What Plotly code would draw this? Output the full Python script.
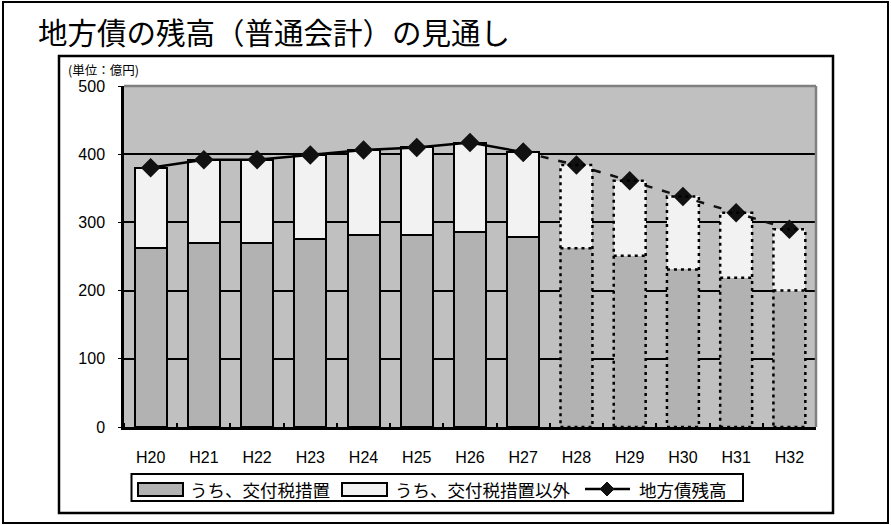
import plotly.graph_objects as go

# ---- data ----
years = ["H20", "H21", "H22", "H23", "H24", "H25", "H26", "H27",
         "H28", "H29", "H30", "H31", "H32"]
kofuzei = [263, 270, 270, 275, 282, 282, 286, 278, 262, 251, 231, 219, 200]
other = [117, 122, 122, 124, 124, 128, 131, 125, 122, 110, 107, 95, 90]
total = [380, 392, 392, 399, 406, 410, 417, 403, 384, 361, 338, 314, 290]
n_actual = 8  # H20..H27 actual, H28.. projections
y_ticks = [0, 100, 200, 300, 400, 500]
series_names = ["うち、交付税措置", "うち、交付税措置以外", "地方債残高"]

W, H = 891, 525
L, R, T, B = 124, 816, 86, 427  # plot area in pixels


def px_x(p):
    return (p - L) / (R - L)


def px_y(p):
    return (B - p) / (B - T)


xs = list(range(len(years)))
bw = 0.6
lw = [2] * n_actual + [0] * (len(years) - n_actual)

fig = go.Figure()
fig.add_trace(go.Bar(
    x=xs, y=kofuzei, width=bw, name=series_names[0],
    marker=dict(color="#b2b2b2", line=dict(color="black", width=lw)),
))
fig.add_trace(go.Bar(
    x=xs, y=other, width=bw, name=series_names[1],
    marker=dict(color="#f2f2f2", line=dict(color="black", width=lw)),
))
fig.add_trace(go.Scatter(
    x=xs[:n_actual], y=total[:n_actual], mode="lines+markers", name=series_names[2],
    line=dict(color="black", width=2.5),
    marker=dict(symbol="diamond", size=15, color="#111111"),
))
fig.add_trace(go.Scatter(
    x=xs[n_actual - 1:], y=total[n_actual - 1:], mode="lines+markers", showlegend=False,
    line=dict(color="#111111", width=2.5, dash="8px,10px"),
    marker=dict(symbol="diamond", size=15, color="#111111"),
))

shapes = []
# dotted outlines for projected bars
for i in range(n_actual, len(years)):
    shapes.append(dict(type="rect", xref="x", yref="y", x0=xs[i] - bw / 2, x1=xs[i] + bw / 2,
                       y0=0, y1=total[i], line=dict(color="black", width=2.5, dash="3px,4px"),
                       layer="above"))
    shapes.append(dict(type="line", xref="x", yref="y", x0=xs[i] - bw / 2, x1=xs[i] + bw / 2,
                       y0=kofuzei[i], y1=kofuzei[i], line=dict(color="black", width=2.5, dash="3px,4px"),
                       layer="above"))
# plot area top/right border (gray)
shapes.append(dict(type="line", xref="paper", yref="paper", x0=0, x1=1, y0=1, y1=1,
                   line=dict(color="#808080", width=2.5)))
shapes.append(dict(type="line", xref="paper", yref="paper", x0=1, x1=1, y0=0, y1=1,
                   line=dict(color="#808080", width=2.5)))
# inner chart frame
shapes.append(dict(type="rect", xref="paper", yref="paper", x0=px_x(59), x1=px_x(833),
                   y0=px_y(513), y1=px_y(56), line=dict(color="black", width=2.5)))
# outer frame
shapes.append(dict(type="rect", xref="paper", yref="paper", x0=px_x(3), x1=px_x(888),
                   y0=px_y(523), y1=px_y(2), line=dict(color="black", width=2)))

# ---- custom legend (box, swatches, labels) ----
ly = 489  # legend centre line (px)
shapes.append(dict(type="rect", xref="paper", yref="paper", x0=px_x(131.5), x1=px_x(743),
                   y0=px_y(501), y1=px_y(474), line=dict(color="black", width=2), fillcolor="white"))
shapes.append(dict(type="rect", xref="paper", yref="paper", x0=px_x(138), x1=px_x(183),
                   y0=px_y(496), y1=px_y(483), line=dict(color="black", width=2), fillcolor="#b2b2b2"))
shapes.append(dict(type="rect", xref="paper", yref="paper", x0=px_x(342), x1=px_x(387),
                   y0=px_y(496), y1=px_y(483), line=dict(color="black", width=2), fillcolor="#f2f2f2"))
shapes.append(dict(type="line", xref="paper", yref="paper", x0=px_x(585), x1=px_x(630),
                   y0=px_y(ly), y1=px_y(ly), line=dict(color="black", width=2.5)))
dcx = 607
shapes.append(dict(type="path", xref="paper", yref="paper",
                   path=(f"M {px_x(dcx - 7)},{px_y(ly)} L {px_x(dcx)},{px_y(ly - 7)} "
                         f"L {px_x(dcx + 7)},{px_y(ly)} L {px_x(dcx)},{px_y(ly + 7)} Z"),
                   line=dict(color="#111111", width=1), fillcolor="#111111"))

legend_font = dict(family="Noto Sans CJK JP", size=17.5, color="black")
legend_text_x = [188, 393, 637]
annotations = [
    dict(text="地方債の残高（普通会計）の見通し", xref="paper", yref="paper",
         x=px_x(36), y=px_y(31), xanchor="left", yanchor="middle", showarrow=False,
         font=dict(family="Noto Sans CJK JP", size=29.5, color="black")),
    dict(text="(単位：億円)", xref="paper", yref="paper",
         x=px_x(66), y=px_y(69), xanchor="left", yanchor="middle", showarrow=False,
         font=dict(family="Noto Sans CJK JP", size=12.5, color="black")),
]
for name, tx in zip(series_names, legend_text_x):
    annotations.append(dict(text=name, xref="paper", yref="paper", x=px_x(tx), y=px_y(ly),
                            xanchor="left", yanchor="middle", showarrow=False, font=legend_font))

fig.update_layout(
    width=W, height=H,
    margin=dict(l=L, r=W - R, t=T, b=H - B),
    paper_bgcolor="white", plot_bgcolor="#c0c0c0",
    barmode="stack", bargap=0.4,
    font=dict(family="Liberation Sans, Arial, sans-serif", color="black", size=16),
    shapes=shapes,
    showlegend=False,
    annotations=annotations,
)
fig.update_xaxes(
    range=[-0.5, len(years) - 0.5], tickvals=xs, ticktext=years,
    showgrid=False, zeroline=False, showline=True, linecolor="black", linewidth=2.5,
    ticks="", ticklabelstandoff=14,
    minor=dict(tick0=0.5, dtick=1, ticks="inside", ticklen=4, tickcolor="black", tickwidth=2),
)
fig.update_yaxes(
    range=[0, 500], tickvals=y_ticks, showgrid=True, gridcolor="black", gridwidth=1.5,
    zeroline=False, showline=True, linecolor="black", linewidth=2.5,
    ticks="outside", ticklen=3, tickcolor="black", ticklabelstandoff=10,
)

fig.write_html("out.html", config={"displayModeBar": False},
               post_script="document.body.style.margin='0';")
